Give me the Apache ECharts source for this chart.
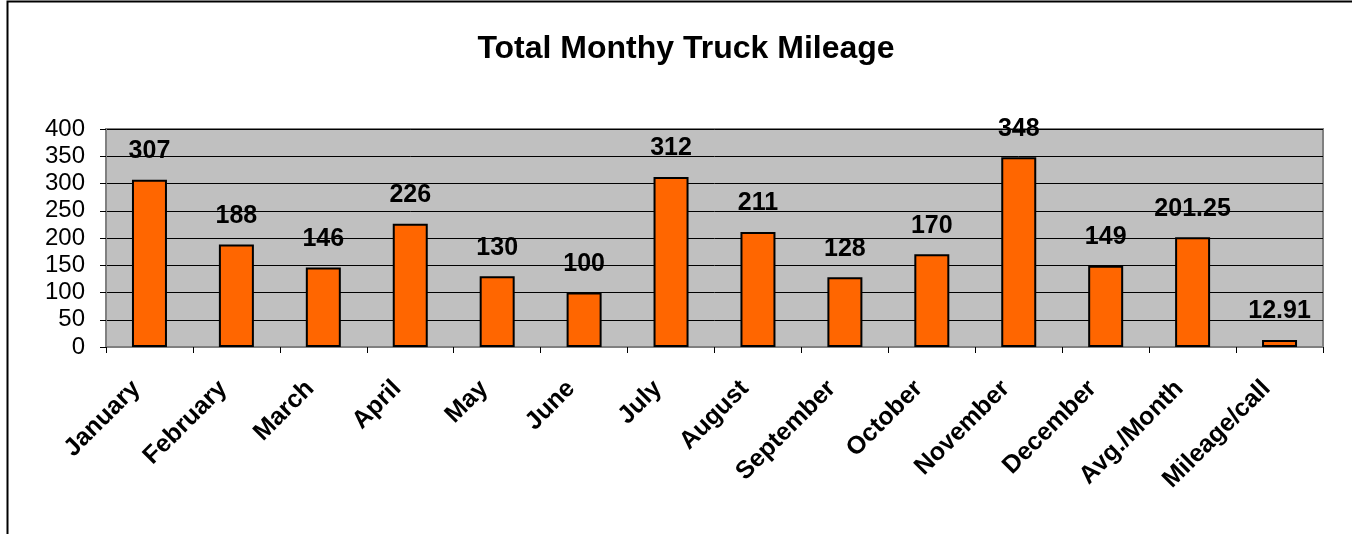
<!DOCTYPE html>
<html>
<head>
<meta charset="utf-8">
<script src="https://cdn.jsdelivr.net/npm/echarts@6/dist/echarts.min.js"></script>
<style>
  html, body { margin: 0; padding: 0; background: #fff; }
  #chart { width: 1352px; height: 534px; }
</style>
</head>
<body>
<div id="chart"></div>
<script>
var months = ['January', 'February', 'March', 'April', 'May', 'June', 'July',
  'August', 'September', 'October', 'November', 'December', 'Avg./Month', 'Mileage/call'];
var mileage = [307, 188, 146, 226, 130, 100, 312, 211, 128, 170, 348, 149, 201.25, 12.91];
var yTicks = { min: 0, max: 400, step: 50 };

var chart = echarts.init(document.getElementById('chart'));
var option = {
  animation: false,
  textStyle: { fontFamily: 'Liberation Sans, Arial, sans-serif' },
  graphic: [{
    type: 'rect',
    shape: { x: 7.5, y: 1.5, width: 1500, height: 700 },
    style: { fill: 'none', stroke: '#000', lineWidth: 2 },
    silent: true
  }],
  title: {
    text: 'Total Monthy Truck Mileage',
    left: 681,
    textAlign: 'center',
    top: 28,
    textStyle: { fontSize: 32, fontWeight: 'bold', color: '#000' }
  },
  grid: {
    left: 106,
    right: 29,
    top: 129,
    bottom: 187,
    show: true,
    backgroundColor: '#C0C0C0',
    borderColor: '#808080',
    borderWidth: 2
  },
  xAxis: {
    type: 'category',
    data: months,
    axisLine: { lineStyle: { color: '#808080', width: 2 } },
    axisTick: { show: true, length: 6, lineStyle: { color: '#000' } },
    axisLabel: {
      interval: 0,
      rotate: 45,
      margin: 7,
      verticalAlign: 'top',
      padding: [0, 31, 0, 0],
      fontSize: 25,
      fontWeight: 'bold',
      color: '#000'
    }
  },
  yAxis: {
    type: 'value',
    min: yTicks.min,
    max: yTicks.max,
    interval: yTicks.step,
    axisLine: { show: true, lineStyle: { color: '#808080', width: 2 } },
    axisTick: { show: true, length: 6, lineStyle: { color: '#000' } },
    axisLabel: { fontSize: 24, color: '#000', margin: 21 },
    splitLine: { lineStyle: { color: '#000', width: 1 } }
  },
  series: [{
    name: 'Mileage',
    type: 'bar',
    data: mileage,
    barWidth: 35,
    itemStyle: { color: '#FF6600', borderColor: '#000', borderWidth: 2 },
    label: {
      show: true,
      position: 'top',
      distance: 16,
      fontSize: 25,
      fontWeight: 'bold',
      color: '#000'
    }
  }]
};
chart.setOption(option);
</script>
</body>
</html>
